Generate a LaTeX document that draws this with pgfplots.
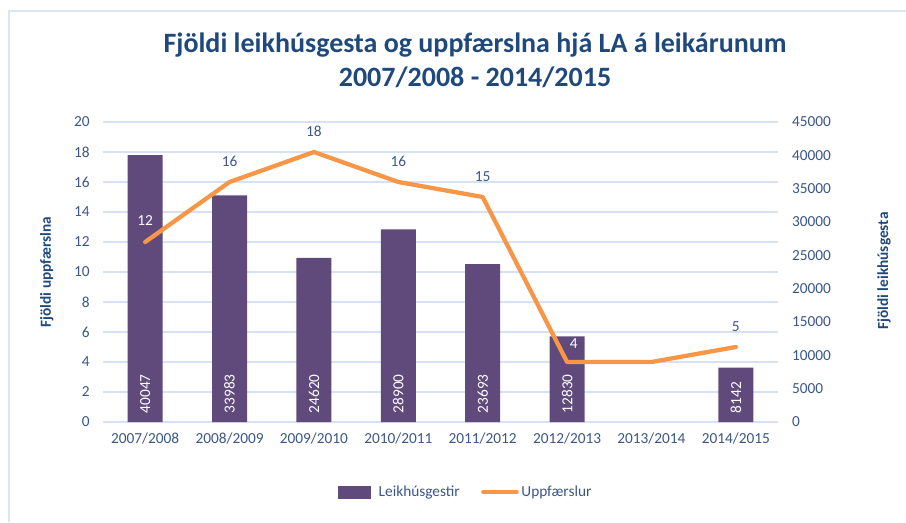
\documentclass[border=0pt]{standalone}
\usepackage{pgfplots}
\pgfplotsset{compat=1.18}
\usepackage{pgfplotstable}
\usepackage{fontspec}
\setmainfont{Carlito}
\definecolor{titleblue}{HTML}{1F497D}
\definecolor{tickblue}{HTML}{3B5688}
\definecolor{barpurple}{HTML}{604A7B}
\definecolor{lineorange}{HTML}{F79646}
\definecolor{gridblue}{HTML}{D6E2F3}
\definecolor{borderblue}{HTML}{DAE5F5}
\newcommand{\tf}{\fontsize{11.5}{13}\selectfont}

\pgfplotstableread{
x v
0 40047
1 33983
2 24620
3 28900
4 23693
5 12830
7 8142
}\gestir

\pgfplotstableread{
x n
0 12
1 16
2 18
3 16
4 15
5 4
6 4
7 5
}\uppf

\pgfplotsset{
  base/.style={
    at={(77.25pt,75pt)}, anchor=south west,
    scale only axis, width=506.25pt, height=225pt,
    xmin=-0.5, xmax=7.5,
    axis line style={draw=none},
    major tick length=0pt,
    /pgf/number format/assume math mode=true,
    /pgf/number format/1000 sep={},
    scaled y ticks=false,
    ticklabel style={font=\tf, text=tickblue},
  }
}

\begin{document}
\begin{tikzpicture}
\path[use as bounding box] (0,0) rectangle (679.5pt,391.5pt);
\draw[borderblue, line width=1.5pt] (6.4pt,0) -- (6.4pt,383.6pt) -- (679.5pt,383.6pt);

% axis 1: left scale, grid, x labels
\begin{axis}[base,
  ymin=0, ymax=20, ytick={0,2,...,20},
  ymajorgrids, grid style={gridblue, line width=1.3pt},
  yticklabel style={xshift=-6.5pt},
  xticklabel style={yshift=-4.5pt},
  xtick={0,...,7},
  xticklabels={2007/2008,2008/2009,2009/2010,2010/2011,2011/2012,2012/2013,2013/2014,2014/2015},
]
\addplot[draw=none] coordinates {(0,0)};
\end{axis}

% axis 2: bars on right scale
\begin{axis}[base,
  ymin=0, ymax=45000, ytick={0,5000,...,45000},
  yticklabel pos=right,
  yticklabel style={xshift=7pt},
  xtick=\empty,
]
\addplot[ybar, bar width=26.25pt, fill=barpurple, draw=none] table[x=x,y=v] {\gestir};
\addplot[draw=none, mark=none, nodes near coords, point meta=explicit symbolic,
  every node near coord/.append style={rotate=90, anchor=west, xshift=3pt, text=white, font=\tf}]
  table[x=x, y expr=0, meta=v] {\gestir};
\end{axis}

% axis 3: line on left scale
\begin{axis}[base,
  ymin=0, ymax=20, ytick=\empty, xtick=\empty,
  legend style={at={(0.538,-0.233)}, anchor=center, draw=none, fill=none,
    font=\tf, text=tickblue, legend columns=2,
    /tikz/every even column/.append style={column sep=14pt}},
  legend cell align=left,
]
\addlegendimage{legend image code/.code={\fill[barpurple] (0pt,-4.5pt) rectangle (24pt,4.5pt); \path (28pt,0pt);}}
\addlegendentry{Leikhúsgestir}
\addplot[lineorange, line width=3.2pt, line join=round, line cap=round,
  legend image code/.code={\draw[lineorange, line width=3.2pt] (0pt,0pt) -- (25pt,0pt);}]
  table[x=x,y=n] {\uppf};
\addlegendentry{Uppfærslur}
\addplot[draw=none, mark=none, nodes near coords, point meta=explicit symbolic,
  every node near coord/.append style={anchor=center, yshift=15.5pt, text=tickblue, font=\tf},
  forget plot]
  coordinates {(1,16) [16] (2,18) [18] (3,16) [16] (4,15) [15] (7,5) [5]};
\addplot[draw=none, mark=none, nodes near coords, point meta=explicit symbolic,
  every node near coord/.append style={anchor=center, yshift=16pt, text=white, font=\tf},
  forget plot]
  coordinates {(0,12) [12]};
\addplot[draw=none, mark=none, nodes near coords, point meta=explicit symbolic,
  every node near coord/.append style={anchor=center, yshift=13.5pt, text=white, font=\tf},
  forget plot]
  coordinates {(5.08,4) [4]};
\end{axis}

\node[rotate=90, font=\tf\bfseries, text=titleblue] at (35pt,187.5pt) {Fjöldi uppfærslna};
\node[rotate=90, font=\tf\bfseries, text=titleblue] at (663pt,188.25pt) {Fjöldi leikhúsgesta};
\node[font=\fontsize{21}{24}\selectfont\bfseries, text=titleblue] at (356.25pt,357.75pt) {Fjöldi leikhúsgesta og uppfærslna hjá LA á leikárunum};
\node[font=\fontsize{21}{24}\selectfont\bfseries, text=titleblue] at (356.25pt,333.75pt) {2007/2008 - 2014/2015};
\end{tikzpicture}
\end{document}
